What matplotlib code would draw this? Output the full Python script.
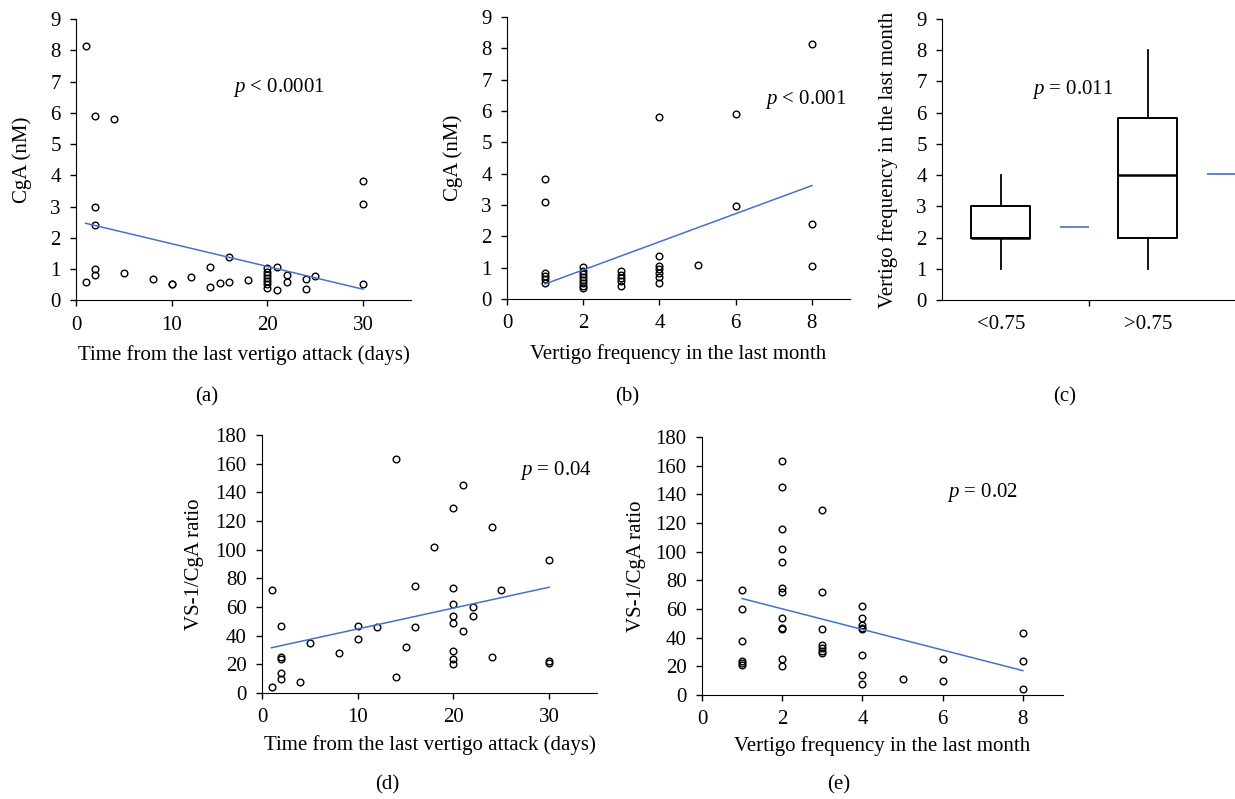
import matplotlib
matplotlib.use("Agg")
import matplotlib.pyplot as plt

plt.rcParams["font.family"] = ["Liberation Serif", "DejaVu Serif"]
plt.rcParams["mathtext.fontset"] = "custom"
plt.rcParams["mathtext.it"] = "Liberation Serif:italic"
plt.rcParams["mathtext.rm"] = "Liberation Serif"

# (a) CgA vs time from last attack
a_x = [1, 2, 4, 2, 2, 1, 2, 2, 5, 8, 10, 10, 12, 14, 14, 15, 16, 16, 18,
       20, 20, 20, 20, 20, 20, 20, 21, 21, 22, 22, 24, 24, 25, 30, 30, 30]
a_y = [8.15, 5.9, 5.8, 2.98, 2.4, 0.58, 1.0, 0.82, 0.88, 0.69, 0.52, 0.53, 0.76, 1.08, 0.43, 0.56, 1.38, 0.6, 0.64,
       1.05, 0.92, 0.82, 0.72, 0.62, 0.52, 0.4, 1.06, 0.35, 0.82, 0.58, 0.69, 0.37, 0.79, 3.82, 3.09, 0.54]
a_trend_x = [1, 30]
a_trend_y = [2.47, 0.36]

# (b) CgA vs vertigo frequency
b_x = [1, 1, 1, 1, 1, 1,
       2, 2, 2, 2, 2, 2, 2, 2,
       3, 3, 3, 3, 3,
       4, 4, 4, 4, 4, 4, 4,
       5, 6, 6, 8, 8, 8]
b_y = [3.82, 3.1, 0.83, 0.73, 0.63, 0.52,
       1.02, 0.9, 0.8, 0.7, 0.6, 0.5, 0.42, 0.35,
       0.88, 0.78, 0.68, 0.58, 0.4,
       5.8, 1.38, 1.05, 0.95, 0.82, 0.7, 0.5,
       1.08, 5.9, 2.97, 8.15, 2.4, 1.06]
b_trend_x = [1, 8]
b_trend_y = [0.48, 3.62]

# (c) box plot of vertigo frequency by group
c_groups = ["<0.75", ">0.75"]
c_whislo = [1, 1]
c_q1 = [2, 2]
c_med = [2, 4]
c_q3 = [3, 5.83]
c_whishi = [4, 8]
c_mean = [2.33, 4.05]

# (d) VS-1/CgA ratio vs time from last attack
d_x = [1, 1, 2, 2, 2, 2, 2, 4, 5, 8, 10, 10, 12, 14, 14, 15, 16, 16, 18,
       20, 20, 20, 20, 20, 20, 20, 20, 21, 21, 22, 22, 24, 24, 25, 30, 30, 30]
d_y = [72, 4, 47, 25, 24, 14, 10, 8, 35, 28, 47, 38, 46, 163, 11, 32, 75, 46, 102,
       129, 73, 62, 54, 49, 29, 24, 20, 145, 43, 60, 54, 116, 25, 72, 93, 22, 21]
d_trend_x = [1, 30]
d_trend_y = [31.6, 73.8]

# (e) VS-1/CgA ratio vs vertigo frequency
e_x = [1, 1, 1, 1, 1, 1,
       2, 2, 2, 2, 2, 2, 2, 2, 2, 2, 2, 2,
       3, 3, 3, 3, 3, 3, 3,
       4, 4, 4, 4, 4, 4, 4, 4,
       5, 6, 6, 8, 8, 8]
e_y = [73, 60, 38, 24, 22, 21,
       163, 145, 116, 102, 93, 75, 72, 54, 47, 46, 25, 20,
       129, 72, 46, 35, 33, 31, 29,
       62, 54, 49, 47, 46, 28, 14, 8,
       11, 25, 10, 43, 24, 4]
e_trend_x = [1, 8]
e_trend_y = [67.3, 17.0]

W, H = 1235, 799
BLUE = "#4472C4"
FS = 15


def box(l, t, r, b):
    return [l / W, 1 - b / H, (r - l) / W, (b - t) / H]


fig = plt.figure(figsize=(W / 100, H / 100), dpi=100)


def style(ax, l, t, r, b, ylab_px, xlab_px):
    ax.spines["top"].set_visible(False)
    ax.spines["right"].set_visible(False)
    ax.tick_params(direction="out", length=4, width=1, labelsize=FS)
    ax.tick_params(axis="x", pad=7)
    ax.tick_params(axis="y", pad=7)
    # place axis titles at pixel positions
    ax.yaxis.set_label_coords((ylab_px - l) / (r - l), 0.5)
    ax.yaxis.label.set_verticalalignment("center")
    if xlab_px is not None:
        ax.xaxis.set_label_coords(0.5, (b - xlab_px) / (b - t))
        ax.xaxis.label.set_verticalalignment("center")


def scatter_panel(px, xs, ys, tx, ty, xlim, xticks, ylim, yticks, xlabel, ylabel, ptext, ppos, ylab_px, xlab_px):
    ax = fig.add_axes(box(*px))
    ax.plot(xs, ys, "o", ms=4.8, mfc="none", mec="black", mew=1.0, ls="none", clip_on=False)
    ax.plot(tx, ty, color=BLUE, lw=1.1)
    ax.set_xlim(*xlim)
    ax.set_ylim(*ylim)
    ax.set_xticks(xticks)
    ax.set_yticks(yticks)
    ax.set_xlabel(xlabel, fontsize=FS)
    ax.set_ylabel(ylabel, fontsize=FS)
    ax.text(ppos[0], ppos[1], ptext, fontsize=FS, ha="left", va="center")
    style(ax, *px, ylab_px, xlab_px)
    return ax


ax_a = scatter_panel((76, 19, 411, 300.5), a_x, a_y, a_trend_x, a_trend_y,
                     (0, 35), [0, 10, 20, 30], (0, 9), range(0, 10),
                     "Time from the last vertigo attack (days)", "CgA (nM)",
                     r"$p$ < 0.0001", (16.4, 6.8), 22, 355)
ax_b = scatter_panel((507, 17, 850, 299), b_x, b_y, b_trend_x, b_trend_y,
                     (0, 9), [0, 2, 4, 6, 8], (0, 9), range(0, 10),
                     "Vertigo frequency in the last month", "CgA (nM)",
                     r"$p$ < 0.001", (6.77, 6.38), 453, 354)
ax_d = scatter_panel((262, 435, 597, 693), d_x, d_y, d_trend_x, d_trend_y,
                     (0, 35), [0, 10, 20, 30], (0, 180), range(0, 181, 20),
                     "Time from the last vertigo attack (days)", "VS-1/CgA ratio",
                     r"$p$ = 0.04", (27.0, 155), 195, 745)
ax_e = scatter_panel((702, 437, 1063, 695), e_x, e_y, e_trend_x, e_trend_y,
                     (0, 9), [0, 2, 4, 6, 8], (0, 180), range(0, 181, 20),
                     "Vertigo frequency in the last month", "VS-1/CgA ratio",
                     r"$p$ = 0.02", (6.1, 141.5), 637, 746)

# (c) box plot
c_px = (942, 19, 1236, 300)
ax_c = fig.add_axes(box(*c_px))
stats = []
for i, g in enumerate(c_groups):
    stats.append(dict(label=g, whislo=c_whislo[i], q1=c_q1[i], med=c_med[i],
                      q3=c_q3[i], whishi=c_whishi[i], fliers=[]))
pos = [0.4 + i for i in range(len(c_groups))]
ax_c.bxp(stats, positions=pos, widths=0.4, showcaps=False, showfliers=False,
         boxprops=dict(color="black", lw=1.4),
         medianprops=dict(color="black", lw=1.8),
         whiskerprops=dict(color="black", lw=1.3))
for i, m in enumerate(c_mean):
    ax_c.hlines(m, 0.8 + i, 1.0 + i, color=BLUE, lw=1.2)
ax_c.set_xlim(0, 2)
ax_c.set_ylim(0, 9)
ax_c.set_yticks(range(0, 10))
ax_c.set_xticks([1])
ax_c.set_xticklabels([])
ax_c.set_xticks(pos, minor=True)
ax_c.set_xticklabels(c_groups, minor=True)
ax_c.set_ylabel("Vertigo frequency in the last month", fontsize=FS)
ax_c.text(0.61, 6.73, r"$p$ = 0.011", fontsize=FS, ha="left", va="center")
style(ax_c, *c_px, 888, None)
ax_c.tick_params(axis="x", which="minor", length=0, labelsize=FS, pad=11)

for lab, x, y in [("(a)", 207, 397), ("(b)", 627, 397), ("(c)", 1065, 397),
                  ("(d)", 387, 785), ("(e)", 839, 785)]:
    fig.text(x / W, 1 - y / H, lab, fontsize=FS, ha="center", va="center")

fig.savefig("out.png", dpi=100)
